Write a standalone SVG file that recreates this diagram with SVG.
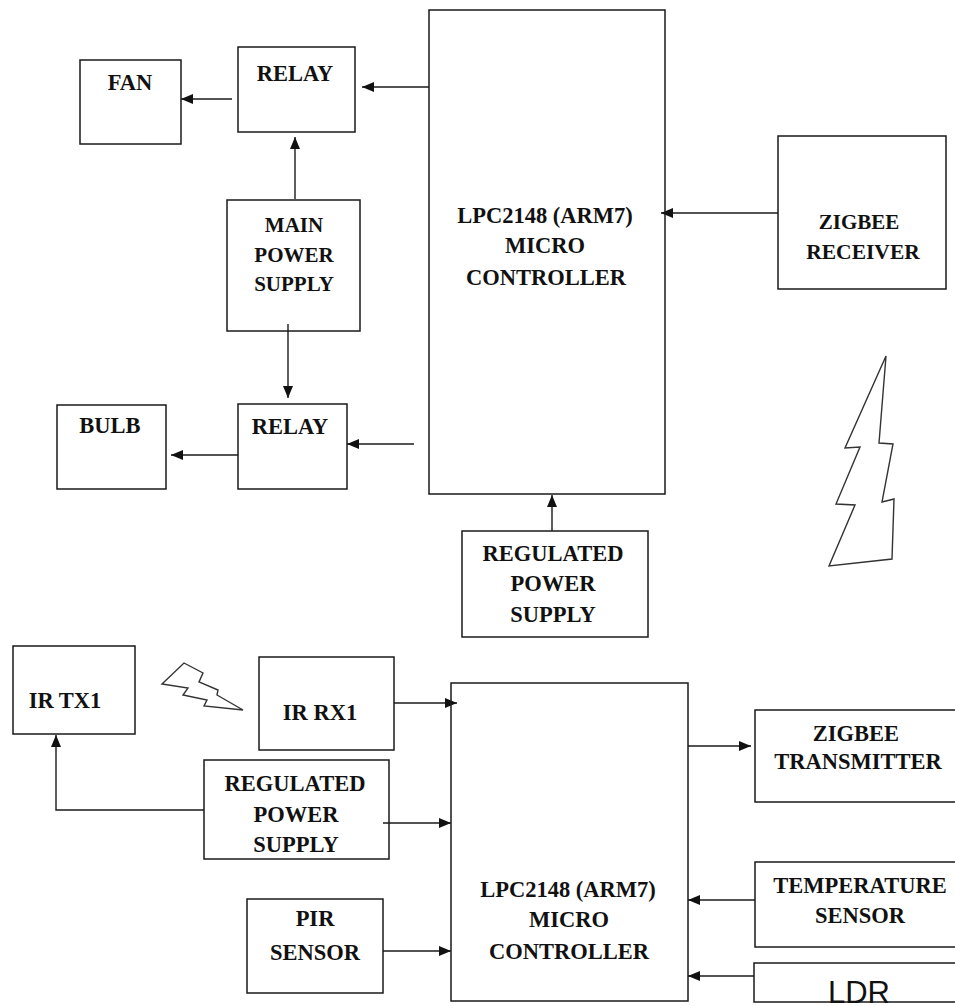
<svg xmlns="http://www.w3.org/2000/svg" width="955" height="1006" viewBox="0 0 955 1006">
<style>
.b{fill:none;stroke:#1a1a1a;stroke-width:1.5}
.c{fill:none;stroke:#333;stroke-width:1.4}
.a{fill:none;stroke:#1a1a1a;stroke-width:1.4;marker-end:url(#m)}
text{font-family:"Liberation Serif",serif;font-weight:bold;font-size:22.5px;fill:#111;text-anchor:middle}
.s{font-size:21px}
</style>
<defs><marker id="m" markerUnits="userSpaceOnUse" markerWidth="14" markerHeight="12" refX="12" refY="5" orient="auto"><path d="M0 0L12 5L0 10Z" fill="#111"/></marker></defs>
<rect width="955" height="1006" fill="#fff"/>
<g id="connectors">
<path class="a" d="M429 87H362"/>
<path class="a" d="M232 99H181"/>
<path class="a" d="M295 199V137"/>
<path class="a" d="M288 324V398"/>
<path class="a" d="M238 455H171"/>
<path class="a" d="M414 444H347"/>
<path class="a" d="M778 213H661"/>
<path class="a" d="M552 531V495"/>
<path class="a" d="M394 703H457"/>
<path class="a" d="M204 810H56V735"/>
<path class="a" d="M383 823H451"/>
<path class="a" d="M383 951H451"/>
<path class="a" d="M688 746H751"/>
<path class="a" d="M755 900H688"/>
<path class="a" d="M754 976H688"/>
</g>
<g id="fan"><rect class="b" x="80" y="60" width="101" height="84"/><text x="130" y="90">FAN</text></g>
<g id="relay1"><rect class="b" x="238" y="47" width="117" height="85"/><text x="295" y="81">RELAY</text></g>
<g id="mcu1"><rect class="b" x="429" y="10" width="236" height="484"/><text x="545" y="223">LPC2148 (ARM7)</text><text x="545" y="253">MICRO</text><text x="546" y="285">CONTROLLER</text></g>
<g id="zigbee-rx"><rect class="b" x="778" y="136" width="168" height="153"/><text class="s" x="859" y="229">ZIGBEE</text><text x="863" y="259" style="font-size:21.5px">RECEIVER</text></g>
<g id="main-power"><rect class="b" x="227" y="200" width="133" height="131"/><text class="s" x="294" y="232">MAIN</text><text class="s" x="294" y="262">POWER</text><text class="s" x="294" y="291">SUPPLY</text></g>
<g id="bulb"><rect class="b" x="57" y="405" width="109" height="84"/><text x="110" y="433">BULB</text></g>
<g id="relay2"><rect class="b" x="238" y="404" width="109" height="85"/><text x="290" y="434">RELAY</text></g>
<g id="reg1"><rect class="b" x="462" y="531" width="186" height="106"/><text x="553" y="561">REGULATED</text><text x="553" y="591">POWER</text><text x="553" y="622">SUPPLY</text></g>
<path id="bolt1" class="c" d="M886 356L879 443L893 444L882 502L894 499L892 559L829 566L855 505L836 504L860 447L845 448Z"/>
<path id="bolt2" class="c" d="M184 663L203 673L199 682L218 690L217 695L243 710L204 706L207 700L183 695L188 688L162 684Z"/>
<g id="irtx"><rect class="b" x="13" y="646" width="122" height="88"/><text x="65" y="708">IR TX1</text></g>
<g id="irrx"><rect class="b" x="259" y="657" width="135" height="93"/><text x="320" y="720">IR RX1</text></g>
<g id="reg2"><rect class="b" x="204" y="760" width="185" height="99"/><text x="295" y="791">REGULATED</text><text x="296" y="822">POWER</text><text x="296" y="852">SUPPLY</text></g>
<g id="pir"><rect class="b" x="247" y="899" width="136" height="94"/><text x="315" y="926">PIR</text><text x="315" y="960">SENSOR</text></g>
<g id="mcu2"><rect class="b" x="451" y="683" width="237" height="318"/><text x="568" y="897">LPC2148 (ARM7)</text><text x="569" y="927">MICRO</text><text x="569" y="959">CONTROLLER</text></g>
<g id="zigbee-tx"><rect class="b" x="755" y="710" width="201" height="92"/><text x="856" y="741">ZIGBEE</text><text x="858" y="769">TRANSMITTER</text></g>
<g id="temp"><rect class="b" x="755" y="862" width="201" height="85"/><text x="860" y="893">TEMPERATURE</text><text x="860" y="923">SENSOR</text></g>
<g id="ldr"><rect class="b" x="754" y="963" width="202" height="39"/><text x="859" y="1003" style="font-family:'Liberation Sans',sans-serif;font-weight:normal;font-size:31px">LDR</text></g>
</svg>
